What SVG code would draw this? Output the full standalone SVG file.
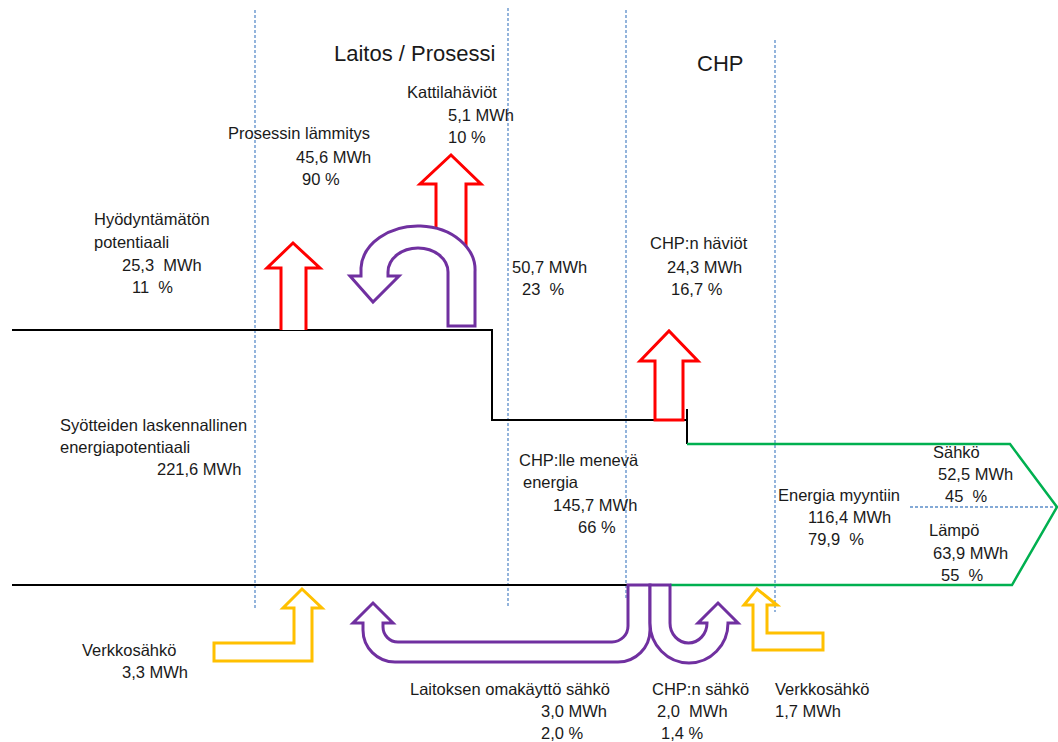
<svg xmlns="http://www.w3.org/2000/svg" width="1058" height="742" viewBox="0 0 1058 742">
<style>
.t{font-family:"Liberation Sans",Arial,sans-serif;font-size:16.5px;fill:#1a1a1a}
.h{font-family:"Liberation Sans",Arial,sans-serif;font-size:22px;fill:#1a1a1a}
.dash{stroke:#5b8dc9;stroke-width:1.3;stroke-dasharray:3 2;fill:none}
.blk{stroke:#000;stroke-width:2;fill:none}
.grn{stroke:#00b050;stroke-width:2.5;fill:none}
.red{stroke:#ff0000;stroke-width:3;fill:#fff;stroke-linejoin:miter}
.pur{stroke:#7030a0;stroke-width:3;fill:#fff}
.yel{stroke:#ffc000;stroke-width:3;fill:#fff}
</style>
<rect width="1058" height="742" fill="#fff"/>
<g id="dividers">
<line class="dash" x1="255" y1="10" x2="255" y2="608"/>
<line class="dash" x1="508" y1="8" x2="508" y2="608"/>
<line class="dash" x1="626" y1="10" x2="626" y2="600"/>
<line class="dash" x1="775" y1="40" x2="775" y2="612"/>
<line class="dash" x1="910" y1="507" x2="1058" y2="507"/>
</g>
<g id="connectors">
<polyline class="blk" points="12,330 492,330 492,420 655,420"/>
<polyline class="blk" points="683,420 687,420"/>
<line class="blk" x1="687" y1="409" x2="687" y2="444"/>
<line class="blk" x1="12" y1="585" x2="630" y2="585"/>
<polyline class="grn" points="687,444 1010,444 1057,507 1012,585 670,585"/>
</g>
<g id="arrow-hyodyntamaton">
<path class="red" d="M281 330 L281 268 L267 268 L293 243 L320 268 L306 268 L306 330"/>
</g>
<g id="arrow-kattila">
<path class="red" d="M436 250 L436 184 L420 184 L451 155 L481 184 L466 184 L466 250"/>
</g>
<g id="arrow-prosessi">
<path class="pur" d="M448 326 L475 326 L475 272 A57 44 0 0 0 361 268 L361 276 L350 276 L373 302 L399 276 L388 276 L388 272 A30 24 0 0 1 448 272 Z"/>
</g>
<g id="arrow-chp-haviot">
<path class="red" d="M655 420 L655 361 L640 361 L669 331 L698 361 L683 361 L683 420 Z"/>
</g>
<g id="arrow-omakaytto">
<path class="pur" d="M650 585 L650 630 A32 32 0 0 1 618 662 L395 662 A32 32 0 0 1 363 630 L363 623 L353 623 L373 603 L393 623 L383 623 L383 627 A15 15 0 0 0 398 642 L612 642 A16 16 0 0 0 628 626 L628 585 Z"/>
</g>
<g id="arrow-chp-sahko">
<path class="pur" d="M650 585 L650 623 A39 40 0 0 0 728 623 L738 623 L718 603 L698 623 L707 623 A18.5 20 0 0 1 670 623 L670 585 Z"/>
</g>
<g id="arrow-verkko1">
<path class="yel" d="M214 643 L294 643 L294 608 L283 608 L302 589 L322 608 L312 608 L312 661 L214 661 Z"/>
</g>
<g id="arrow-verkko2">
<path class="yel" d="M753 650 L753 605 L744 605 L757 589 L777 605 L767 605 L767 633 L823 633 L823 650 Z"/>
</g>
<g id="labels">
<text class="h" x="334" y="61">Laitos / Prosessi</text>
<text class="h" x="697" y="71">CHP</text>
<text class="t" x="407" y="98">Kattilahäviöt</text>
<text class="t" x="448" y="121">5,1 MWh</text>
<text class="t" x="448" y="143">10 %</text>
<text class="t" x="228" y="139">Prosessin lämmitys</text>
<text class="t" x="296" y="163">45,6 MWh</text>
<text class="t" x="302" y="185">90 %</text>
<text class="t" x="94" y="225">Hyödyntämätön</text>
<text class="t" x="94" y="248">potentiaali</text>
<text class="t" x="122" y="271" xml:space="preserve">25,3  MWh</text>
<text class="t" x="132" y="293" xml:space="preserve">11  %</text>
<text class="t" x="512" y="273">50,7 MWh</text>
<text class="t" x="522" y="295" xml:space="preserve">23  %</text>
<text class="t" x="650" y="249">CHP:n häviöt</text>
<text class="t" x="667" y="273">24,3 MWh</text>
<text class="t" x="671" y="295">16,7 %</text>
<text class="t" x="60" y="431">Syötteiden laskennallinen</text>
<text class="t" x="60" y="453">energiapotentiaali</text>
<text class="t" x="157" y="475">221,6 MWh</text>
<text class="t" x="519" y="466">CHP:lle menevä</text>
<text class="t" x="523" y="488">energia</text>
<text class="t" x="553" y="511">145,7 MWh</text>
<text class="t" x="578" y="533">66 %</text>
<text class="t" x="933" y="458">Sähkö</text>
<text class="t" x="938" y="480">52,5 MWh</text>
<text class="t" x="945" y="502" xml:space="preserve">45  %</text>
<text class="t" x="778" y="501">Energia myyntiin</text>
<text class="t" x="808" y="523">116,4 MWh</text>
<text class="t" x="808" y="545" xml:space="preserve">79,9  %</text>
<text class="t" x="929" y="536">Lämpö</text>
<text class="t" x="933" y="559">63,9 MWh</text>
<text class="t" x="941" y="581" xml:space="preserve">55  %</text>
<text class="t" x="82" y="656">Verkkosähkö</text>
<text class="t" x="122" y="678">3,3 MWh</text>
<text class="t" x="410" y="695">Laitoksen omakäyttö sähkö</text>
<text class="t" x="541" y="717">3,0 MWh</text>
<text class="t" x="541" y="739">2,0 %</text>
<text class="t" x="652" y="695">CHP:n sähkö</text>
<text class="t" x="657" y="717" xml:space="preserve">2,0  MWh</text>
<text class="t" x="661" y="739">1,4 %</text>
<text class="t" x="775" y="695">Verkkosähkö</text>
<text class="t" x="775" y="717">1,7 MWh</text>
</g>
</svg>
